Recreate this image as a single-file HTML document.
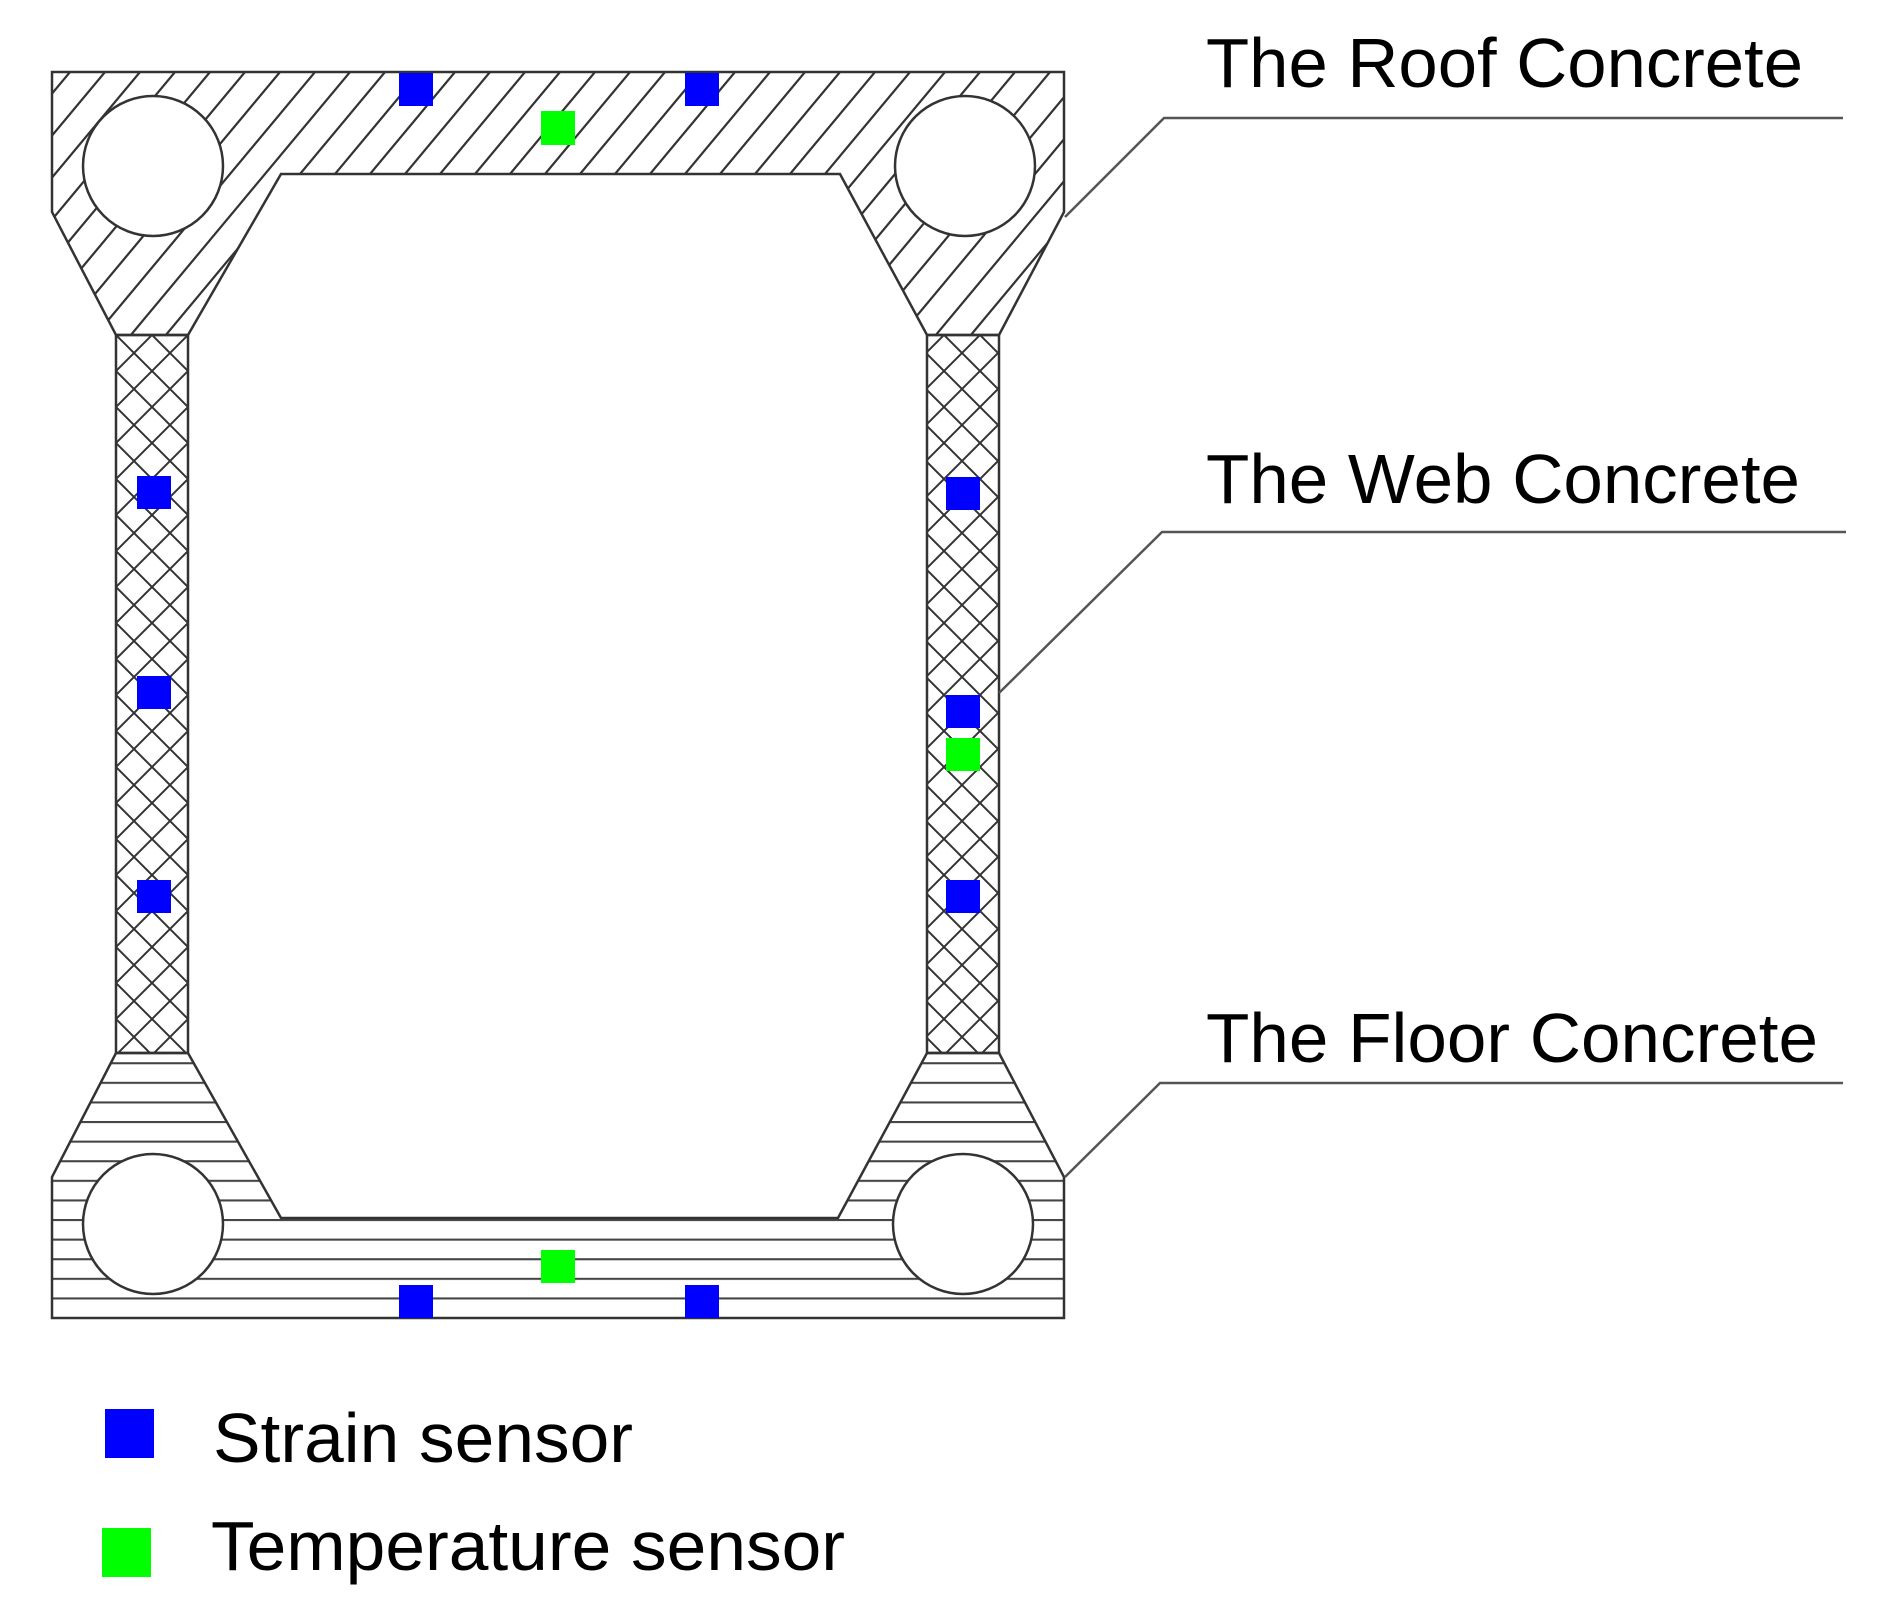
<!DOCTYPE html>
<html><head><meta charset="utf-8"><style>html,body{margin:0;padding:0;background:#fff}svg{display:block}</style></head>
<body>
<svg width="1892" height="1612" viewBox="0 0 1892 1612" xmlns="http://www.w3.org/2000/svg">
<defs>
<pattern id="diag" patternUnits="userSpaceOnUse" width="35" height="42" x="0" y="72">
<path d="M-3.5,46.2 L38.5,-4.2" stroke="#333" stroke-width="2.2"/>
<path d="M-38.5,46.2 L3.5,-4.2 M31.5,46.2 L73.5,-4.2" stroke="#333" stroke-width="2.2"/>
</pattern>
<pattern id="cross" patternUnits="userSpaceOnUse" width="36" height="36" x="116" y="335">
<path d="M0,0 L36,36 M36,0 L0,36" stroke="#333" stroke-width="2"/>
</pattern>
<pattern id="horiz" patternUnits="userSpaceOnUse" width="40" height="19.6" x="0" y="1317">
<path d="M0,1 L40,1" stroke="#444" stroke-width="2.2"/>
</pattern>
</defs>

<polygon points="52,72 1064,72 1064,212 999,335 927,335 840,174 281,174 188,335 116,335 52,212" fill="url(#diag)" stroke="#333" stroke-width="2.5"/>
<rect x="116" y="335" width="72" height="718" fill="url(#cross)" stroke="#333" stroke-width="2.5"/>
<rect x="927" y="335" width="72" height="718" fill="url(#cross)" stroke="#333" stroke-width="2.5"/>
<polygon points="116,1053 188,1053 281,1218 838,1218 927,1053 999,1053 1064,1177 1064,1318 52,1318 52,1177" fill="url(#horiz)" stroke="#333" stroke-width="2.5"/>

<g fill="#fff" stroke="#333" stroke-width="2.5">
<circle cx="153" cy="166" r="70"/>
<circle cx="965" cy="166" r="70"/>
<circle cx="153" cy="1224" r="70"/>
<circle cx="963" cy="1224" r="70"/>
</g>

<g fill="#0000ff">
<rect x="399" y="73" width="34" height="33"/>
<rect x="685" y="73" width="34" height="33"/>
<rect x="137" y="476" width="34" height="33"/>
<rect x="137" y="676" width="34" height="33"/>
<rect x="137" y="880" width="34" height="33"/>
<rect x="946" y="477" width="34" height="33"/>
<rect x="946" y="695" width="34" height="33"/>
<rect x="946" y="880" width="34" height="33"/>
<rect x="399" y="1285" width="34" height="33"/>
<rect x="685" y="1285" width="34" height="33"/>
<rect x="105" y="1409" width="49" height="49"/>
</g>
<g fill="#00ff00">
<rect x="541" y="111" width="34" height="34"/>
<rect x="946" y="738" width="34" height="33"/>
<rect x="541" y="1250" width="34" height="33"/>
<rect x="102" y="1528" width="49" height="49"/>
</g>

<g fill="none" stroke="#555" stroke-width="2.5">
<polyline points="1065,217 1164,118 1843,118"/>
<polyline points="999,693 1162,532 1846,532"/>
<polyline points="1065,1177 1160,1083 1843,1083"/>
</g>

<g font-family="Liberation Sans, Arial, sans-serif" font-size="70" fill="#000">
<text x="1206" y="87" textLength="597" lengthAdjust="spacingAndGlyphs">The Roof Concrete</text>
<text x="1206" y="503" textLength="594" lengthAdjust="spacingAndGlyphs">The Web Concrete</text>
<text x="1206" y="1062" textLength="612" lengthAdjust="spacingAndGlyphs">The Floor Concrete</text>
<text x="213" y="1462" textLength="420" lengthAdjust="spacingAndGlyphs">Strain sensor</text>
<text x="211" y="1570" textLength="634" lengthAdjust="spacingAndGlyphs">Temperature sensor</text>
</g>
</svg>
</body></html>
